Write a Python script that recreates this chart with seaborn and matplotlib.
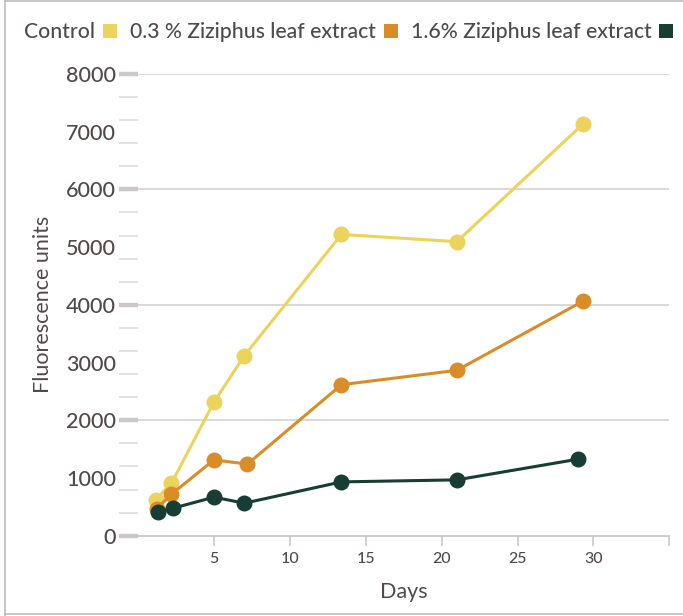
import numpy as np
import pandas as pd
import matplotlib.pyplot as plt
from matplotlib.lines import Line2D
import seaborn as sns

TEXT_COLOR = "#54494a"
GRID_COLOR = "#d9d6d6"
TICK_COLOR = "#ccc8c8"
PALETTE = ["#ecd35c", "#d98d29", "#173d34"]

series_names = ["Control", "0.3 % Ziziphus leaf extract", "1.6% Ziziphus leaf extract"]

days_control = [1.15, 2.2, 5.0, 7.0, 13.4, 21.0, 29.3]
control = [620, 910, 2316, 3120, 5220, 5094, 7130]

days_low = [1.25, 2.2, 5.0, 7.2, 13.4, 21.0, 29.3]
low_dose = [470, 719, 1314, 1240, 2616, 2865, 4062]

days_high = [1.3, 2.3, 5.0, 7.0, 13.4, 21.0, 29.0]
high_dose = [406, 476, 667, 563, 932, 967, 1326]

y_labels = np.arange(0, 8001, 1000)
y_minor = np.arange(0, 8001, 400)
y_major = np.arange(0, 8001, 2000)
x_ticks = [5, 10, 15, 20, 25, 30, 35]

df = pd.concat([
    pd.DataFrame({"Days": days_control, "value": control, "group": series_names[0]}),
    pd.DataFrame({"Days": days_low, "value": low_dose, "group": series_names[1]}),
    pd.DataFrame({"Days": days_high, "value": high_dose, "group": series_names[2]}),
])

sns.set_style("white")
plt.rcParams["font.family"] = ["Lato", "DejaVu Sans"]
plt.rcParams["font.weight"] = 500

fig = plt.figure(figsize=(6.83, 6.16), dpi=100)
ax = fig.add_axes([0.2022, 0.1304, 0.7778, 0.7495])

sns.lineplot(data=df, x="Days", y="value", hue="group", hue_order=series_names,
             palette=PALETTE, marker="o", markersize=11.5, markeredgewidth=0,
             linewidth=2.2, sort=False, legend=False, ax=ax, zorder=3)

ax.set_xlim(0, 35)
ax.set_ylim(0, 8000)

# horizontal gridlines every 2000
for y in y_major[1:]:
    ax.axhline(y, color=GRID_COLOR, lw=1.3, zorder=1)

for side in ["top", "right", "left"]:
    ax.spines[side].set_visible(False)
ax.spines["bottom"].set_color(TICK_COLOR)
ax.spines["bottom"].set_linewidth(1.3)

ax.set_xticks(x_ticks)
ax.set_xticklabels([str(t) if t != 35 else "" for t in x_ticks])
ax.tick_params(axis="x", direction="out", length=7, width=1.2, color=TICK_COLOR,
               labelsize=11.5, labelcolor=TEXT_COLOR, pad=5, bottom=True)

ax.set_yticks(y_labels)
ax.set_yticks(y_minor, minor=True)
ax.tick_params(axis="y", which="major", length=0, labelsize=15.5,
               labelcolor=TEXT_COLOR, pad=16)
ax.tick_params(axis="y", which="minor", direction="out", length=13.5, width=1.1,
               color="#dcd9d9", left=True)

# thick marks at every 2000
sec = ax.secondary_yaxis("left")
sec.set_yticks(y_major)
sec.set_yticklabels([])
sec.tick_params(axis="y", length=13.5, width=3.2, color=TICK_COLOR)
sec.spines["left"].set_visible(False)

ax.set_xlabel("Days", fontsize=15.5, color=TEXT_COLOR, labelpad=11)
ax.set_ylabel("Fluorescence units", fontsize=15.5, color=TEXT_COLOR, labelpad=9)

handles = [Line2D([], [], marker="s", linestyle="", markersize=10.5,
                  markerfacecolor=c, markeredgewidth=0) for c in PALETTE]
fig.legend(handles, series_names, loc="center", bbox_to_anchor=(0.511, 0.948),
           ncol=3, markerfirst=False, frameon=False, fontsize=15.2,
           labelcolor=TEXT_COLOR, handlelength=0.7, handletextpad=0.35,
           columnspacing=0.6)

# outer frame (left, top, bottom)
frame_kw = dict(color="#bdbdbd", lw=1.2, transform=fig.transFigure)
fig.add_artist(Line2D([0.007, 0.007], [0.0, 1.0], **frame_kw))
fig.add_artist(Line2D([0.007, 1.0], [0.998, 0.998], **frame_kw))
fig.add_artist(Line2D([0.007, 1.0], [0.003, 0.003], **frame_kw))

fig.savefig("out.png", dpi=100)
plt.close(fig)
